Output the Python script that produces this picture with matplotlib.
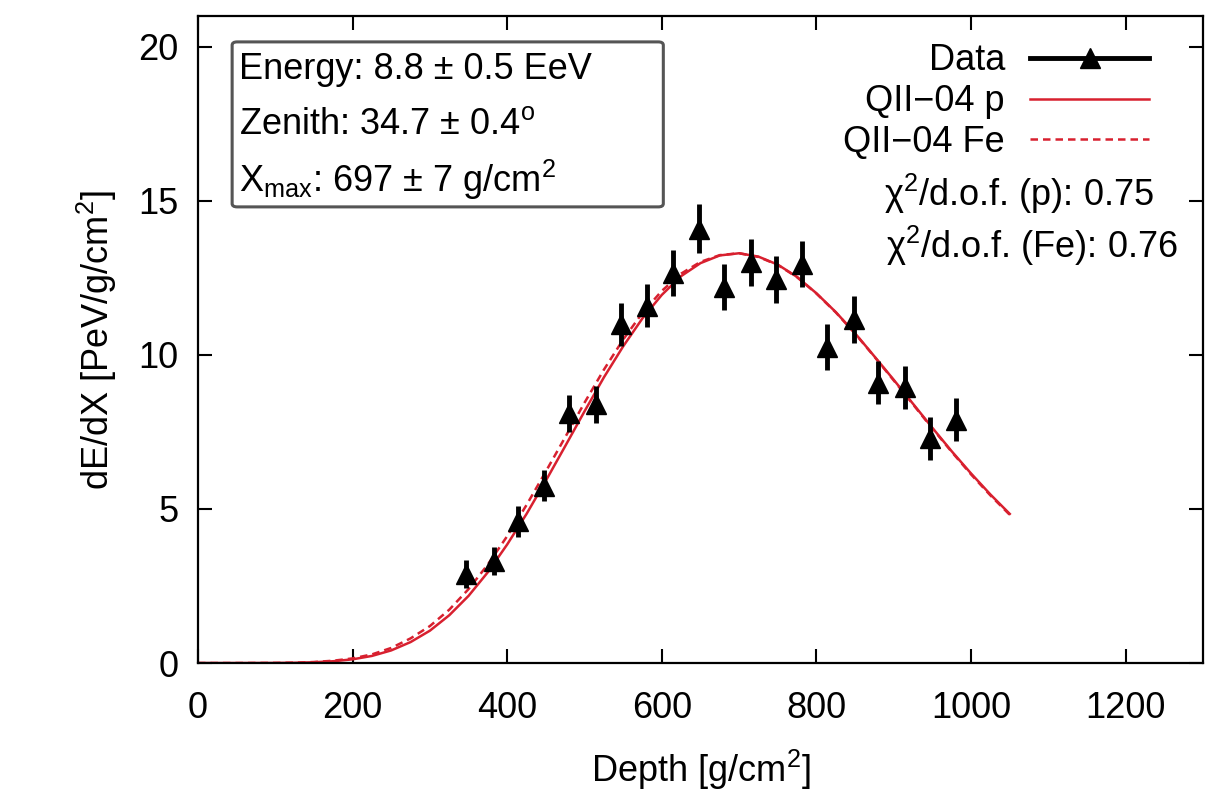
import matplotlib
matplotlib.use("Agg")
import matplotlib.pyplot as plt
from matplotlib.lines import Line2D
from matplotlib.patches import FancyBboxPatch

plt.rcParams['font.family'] = ['Liberation Sans', 'DejaVu Sans']
plt.rcParams['mathtext.fontset'] = 'custom'
plt.rcParams['mathtext.rm'] = 'Liberation Sans'
plt.rcParams['mathtext.it'] = 'Liberation Sans:italic'
plt.rcParams['mathtext.sf'] = 'Liberation Sans'

# ---- data ----
depth = [347, 383, 414, 448, 480, 515, 547, 581, 614, 648,
         681, 715, 747, 781, 814, 848, 880, 914, 947, 981]
dedx = [2.9, 3.3, 4.6, 5.75, 8.1, 8.4, 11.0, 11.6, 12.65, 14.1,
        12.2, 13.0, 12.45, 12.95, 10.25, 11.15, 9.1, 8.95, 7.3, 7.9]
dedx_err = [0.45, 0.45, 0.5, 0.5, 0.6, 0.6, 0.7, 0.7, 0.75, 0.8,
            0.75, 0.75, 0.75, 0.75, 0.75, 0.75, 0.7, 0.7, 0.7, 0.7]

curve_x = [0, 50, 100, 125, 150, 175, 200, 225, 250, 275, 300, 325, 350, 375,
           400, 425, 450, 475, 500, 525, 550, 575, 600, 625, 650, 675, 700,
           725, 750, 775, 800, 825, 850, 875, 900, 925, 950, 975, 1000, 1025, 1050]
curve_p = [0.0, 0.0, 0.003, 0.009, 0.025, 0.058, 0.12, 0.23, 0.41, 0.68, 1.05,
           1.55, 2.18, 2.95, 3.85, 4.84, 5.92, 7.04, 8.17, 9.27, 10.28, 11.19,
           11.95, 12.56, 12.98, 13.23, 13.3, 13.19, 12.93, 12.53, 12.0, 11.39,
           10.7, 9.95, 9.19, 8.41, 7.63, 6.87, 6.15, 5.47, 4.84]
curve_fe = [0.0, 0.0, 0.004, 0.012, 0.033, 0.075, 0.15, 0.28, 0.49, 0.8, 1.2,
            1.73, 2.4, 3.2, 4.12, 5.13, 6.22, 7.33, 8.45, 9.52, 10.5, 11.37,
            12.08, 12.64, 13.02, 13.24, 13.3, 13.18, 12.92, 12.52, 11.99, 11.38,
            10.69, 9.94, 9.17, 8.39, 7.61, 6.85, 6.12, 5.44, 4.81]

xticks = [0, 200, 400, 600, 800, 1000, 1200]
yticks = [0, 5, 10, 15, 20]

info_lines = ["Energy: 8.8 ± 0.5 EeV",
              r"Zenith: 34.7 ± 0.4$^{\rm o}$",
              r"X$_{\rm max}$: 697 ± 7 g/cm$^2$"]
chi_lines = [r"χ$^2$/d.o.f. (p): 0.75",
             r"χ$^2$/d.o.f. (Fe): 0.76"]

red = '#d8202f'
fs = 26

fig = plt.figure(figsize=(12.13, 7.97), dpi=100)
ax = fig.add_axes([0.1632, 0.1681, 0.8286, 0.8118])

ax.plot(curve_x, curve_p, color=red, lw=1.8, zorder=2)
ax.plot(curve_x, curve_fe, color=red, lw=1.8, ls=(0, (3, 2)), zorder=2)
ax.errorbar(depth, dedx, yerr=dedx_err, fmt='^', color='black', ms=14,
            elinewidth=3.5, capsize=0, zorder=3)

ax.set_xlim(0, 1300)
ax.set_ylim(0, 21)
ax.set_xticks(xticks)
ax.set_yticks(yticks)
ax.tick_params(direction='in', length=10, width=1.5, top=True, right=True,
               labelsize=fs, pad=14)
ax.tick_params(axis='x', pad=20)
for s in ax.spines.values():
    s.set_linewidth(1.6)

ax.set_xlabel(r"Depth [g/cm$^2$]", fontsize=fs, labelpad=16)
ax.set_ylabel(r"dE/dX [PeV/g/cm$^2$]", fontsize=fs, labelpad=14)

# info box
box = FancyBboxPatch((0.034, 0.705), 0.429, 0.255, transform=ax.transAxes,
                     boxstyle='round,pad=0,rounding_size=0.005',
                     fc='white', ec='#555555', lw=2.2, zorder=4)
ax.add_patch(box)
for i, t in enumerate(info_lines):
    ax.text(0.041, 0.918 - i * 0.086, t, transform=ax.transAxes, fontsize=fs,
            va='center', ha='left', zorder=5)

handles = [Line2D([], [], color='black', lw=3.5, marker='^', ms=14),
           Line2D([], [], color=red, lw=1.8),
           Line2D([], [], color=red, lw=1.8, ls=(0, (3, 2)))]
labels = ["Data", "QII−04 p", "QII−04 Fe"]
leg = ax.legend(handles, labels, loc='upper right', frameon=False,
                markerfirst=False, fontsize=fs, handlelength=3.3,
                handletextpad=0.7, labelspacing=0.16, numpoints=1,
                borderaxespad=0.0, bbox_to_anchor=(0.961, 0.98))

for i, t in enumerate(chi_lines):
    ax.text([0.951, 0.975][i], 0.725 - i * 0.08, t, transform=ax.transAxes,
            fontsize=fs, ha='right', va='center')

fig.savefig("out.png", dpi=100)
